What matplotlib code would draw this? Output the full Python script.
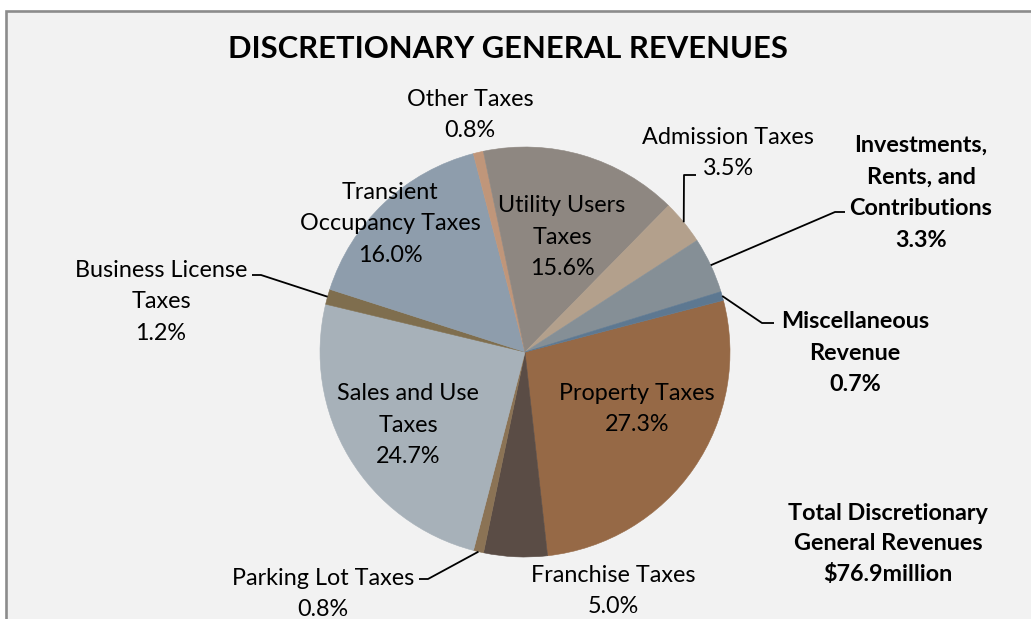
import numpy as np
import matplotlib.pyplot as plt
from matplotlib.patches import Rectangle

plt.rcParams['font.family'] = ['Lato', 'DejaVu Sans']

# slice data, clockwise from the Property Taxes slice
categories = ['Property Taxes', 'Franchise Taxes', 'Parking Lot Taxes', 'Sales and Use Taxes',
              'Business License Taxes', 'Transient Occupancy Taxes', 'Other Taxes',
              'Utility Users Taxes', 'Admission Taxes', 'Investments, Rents, and Contributions',
              'Miscellaneous Revenue']
shares = [27.3, 5.0, 0.8, 24.7, 1.2, 16.0, 0.8, 15.6, 3.5, 4.4, 0.7]
label_text = ['Property Taxes\n27.3%', 'Franchise Taxes\n5.0%', 'Parking Lot Taxes\n0.8%',
              'Sales and Use\nTaxes\n24.7%', 'Business License\nTaxes\n1.2%',
              'Transient\nOccupancy Taxes\n16.0%', 'Other Taxes\n0.8%',
              'Utility Users\nTaxes\n15.6%', 'Admission Taxes\n3.5%',
              'Investments,\nRents, and\nContributions\n3.3%', 'Miscellaneous\nRevenue\n0.7%']
colors = ['#966946', '#5a4c45', '#8b7355', '#a7b1b9', '#7f6e4e', '#8e9dac',
          '#c0967a', '#8e8781', '#b3a08c', '#858f96', '#5d7891']

W, H = 1031, 619
fig = plt.figure(figsize=(W / 100, H / 100), dpi=100, facecolor='white')
ax = fig.add_axes([0, 0, 1, 1])

def py(y):
    # pixel row (from top) -> data y
    return H - y

# chart frame
ax.add_patch(Rectangle((6, -20), W + 40, py(11) + 20, facecolor='#f2f2f2',
                       edgecolor='#8c8c8c', lw=1.9, zorder=0))

cx, cy, R = 525, py(352), 205
wedges, _ = ax.pie(shares, colors=colors, startangle=14.6, counterclock=False,
                   center=(cx, cy), radius=R, frame=True,
                   wedgeprops=dict(linewidth=0.4, edgecolor='none'))
for w, c in zip(wedges, colors):
    w.set_edgecolor(c)

# label positions (pixel coords of text block centre) and weight
label_pos = [(637, 409), (613, 591), (323, 594), (408, 425), (161, 302), (390, 224),
             (470, 115), (562, 237), (728, 153), (921, 193), (855, 353)]
bold = [False] * 9 + [True, True]

for txt, (x, y), b in zip(label_text, label_pos, bold):
    ax.text(x, py(y), txt, ha='center', va='center', fontsize=16.8,
            fontweight='bold' if b else 'normal', linespacing=1.62, color='black')

# leader lines: elbow and end point for the outside labels
leaders = {2: [(428, 579), (419, 579)],
           4: [(261, 275), (252, 275)],
           8: [(684, 175), (696, 175)],
           9: [(835, 212), (845, 212)],
           10: [(762, 323), (774, 323)]}
for i, pts in leaders.items():
    w = wedges[i]
    mid = np.deg2rad((w.theta1 + w.theta2) / 2)
    xs = [cx + R * np.cos(mid)] + [p[0] for p in pts]
    ys = [cy + R * np.sin(mid)] + [py(p[1]) for p in pts]
    ax.plot(xs, ys, color='black', lw=1.3, solid_capstyle='butt')

ax.text(508, py(49), 'DISCRETIONARY GENERAL REVENUES', ha='center', va='center',
        fontsize=22.3, fontweight='bold')
ax.text(888, py(544), 'Total Discretionary\nGeneral Revenues\n$76.9million',
        ha='center', va='center', fontsize=16.8, fontweight='bold', linespacing=1.55)

ax.set_xlim(0, W)
ax.set_ylim(0, H)
ax.set_aspect('equal')
ax.axis('off')

fig.savefig('out.png', dpi=100, facecolor='white')
